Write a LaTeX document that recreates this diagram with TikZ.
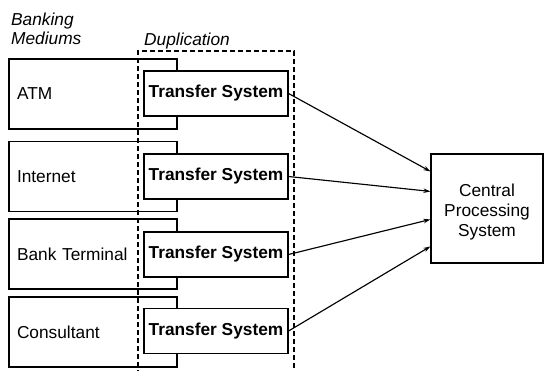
\documentclass[tikz,border=0pt]{standalone}
\usepackage{fontspec}
\setmainfont{Liberation Sans}
\usetikzlibrary{calc,arrows.meta}

\tikzset{
  every node/.style={font=\fontsize{17.3}{20}\selectfont},
  outline/.style={draw=black, line width=1.15pt},
  medbox/.style={outline, rectangle, minimum width=168pt, minimum height=70pt,
    text width=152pt, inner xsep=8pt, align=left},
  tsbox/.style={outline, rectangle, fill=white, minimum width=144pt,
    minimum height=45pt, inner sep=0pt, font=\fontsize{17.3}{20}\selectfont\bfseries},
  cpsbox/.style={outline, rectangle, minimum width=112pt, minimum height=109pt},
  cpstext/.style={inner sep=0pt, align=center},
  caption/.style={inner sep=0pt, align=left, font=\fontsize{17.3}{19.5}\selectfont\itshape},
  dupline/.style={draw=black, line width=1.15pt, dash pattern=on 5pt off 3pt},
  flow/.style={draw=black, line width=1.15pt, -{Stealth[length=7pt,width=4.5pt]}}
}

\begin{document}
\begin{tikzpicture}[x=1pt,y=-1pt]
  \useasboundingbox (0,0) rectangle (544,371);

  % banking mediums
  \node[medbox] (atm) at (93,94)    {ATM};
  \node[medbox] (net) at (93,176.5) {Internet};
  \node[medbox] (bank) at (93,254)  {Bank Terminal};
  \node[medbox] (cons) at (93,332)  {Consultant};

  % duplication frame
  \coordinate (dupbl) at (138,375);
  \coordinate (duptl) at (138,51);
  \coordinate (duptr) at (294,51);
  \coordinate (dupbr) at (294,375);
  \draw[dupline] (dupbl) -- (duptl) -- (duptr) -- (dupbr);

  % transfer systems
  \node[tsbox] (ts1) at (216,93.5)  {Transfer System};
  \node[tsbox] (ts2) at (216,176.5) {Transfer System};
  \node[tsbox] (ts3) at (216,254.5) {Transfer System};
  \node[tsbox] (ts4) at (216,331)   {Transfer System};

  % central processing
  \node[cpsbox] (cps) at (487,208.5) {};
  \node[cpstext] (cpslabel) at ($(cps.center)+(0,4)$) {Central\\Processing\\System};

  % captions
  \node[caption, anchor=base west] (bmcap1) at (11,26) {Banking};
  \node[caption, anchor=base west] (bmcap2) at (11,45) {Mediums};
  \node[caption, anchor=base west] (dupcap) at (144,46) {Duplication};

  % flows into the central system
  \draw[flow] (ts1.east) -- ($(cps.north west)+(0,18)$);
  \draw[flow] (ts2.east) -- ($(cps.north west)+(0,38)$);
  \draw[flow] (ts3.east) -- ($(cps.north west)+(0,66)$);
  \draw[flow] (ts4.east) -- ($(cps.north west)+(0,93)$);
\end{tikzpicture}
\end{document}
